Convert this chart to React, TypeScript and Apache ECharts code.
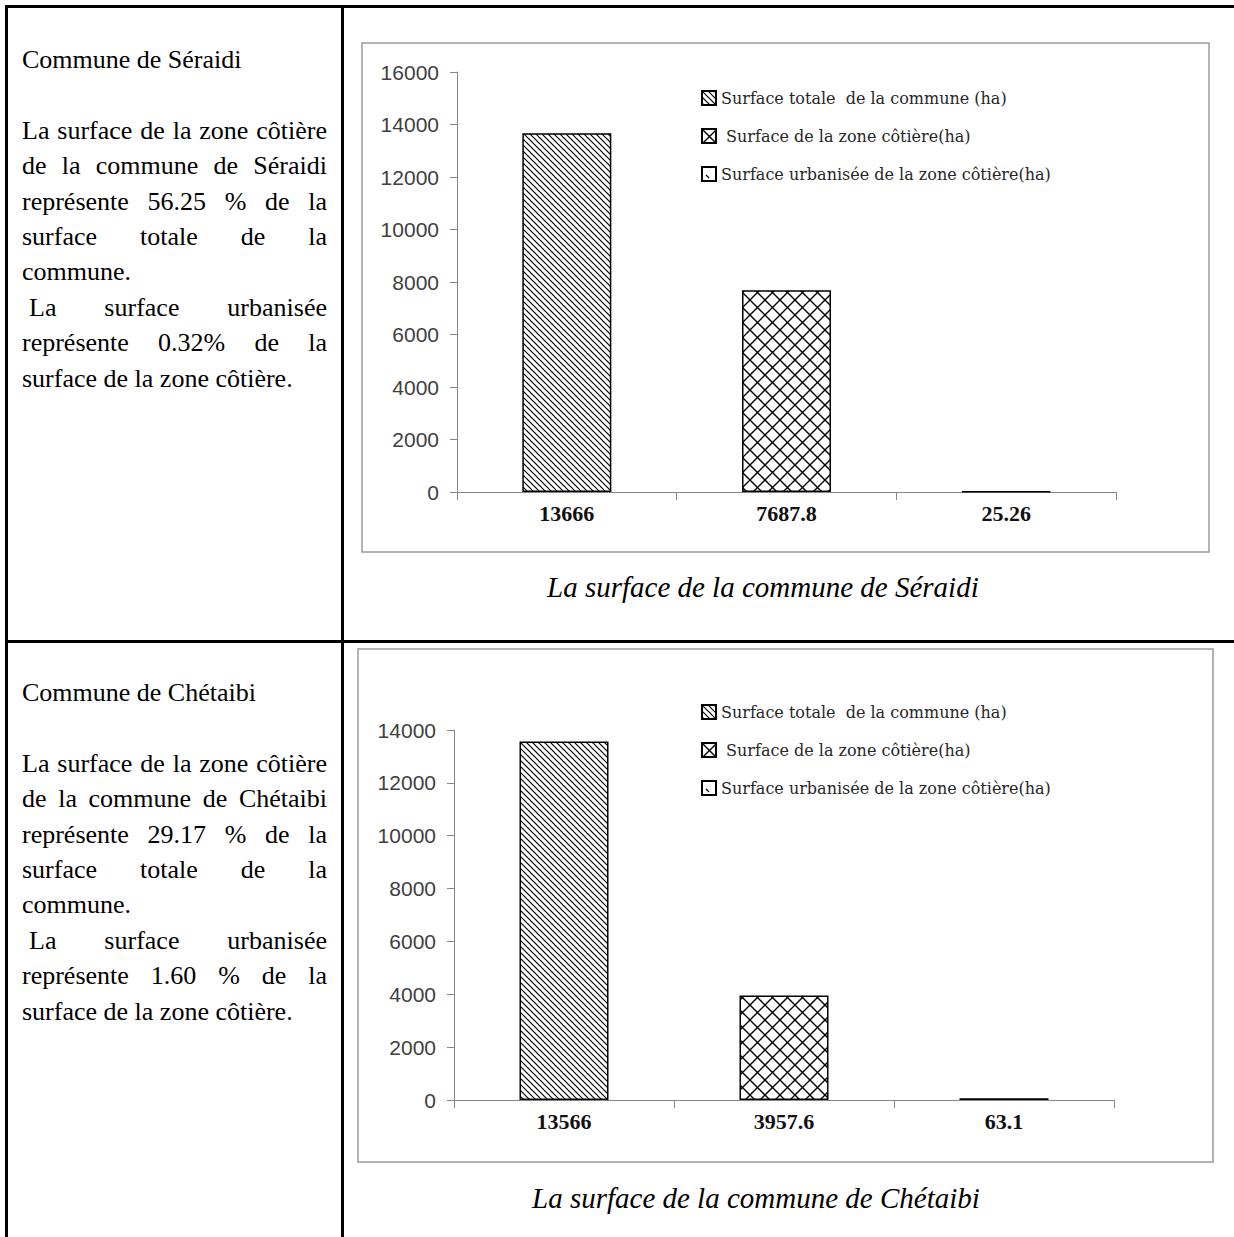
import React, { useEffect, useRef } from "react";
import * as echarts from "echarts";

// ---------- data ----------
const seriesNames = [
  "Surface totale  de la commune (ha)",
  "Surface de la zone côtière(ha)",
  "Surface urbanisée de la zone côtière(ha)",
];
const seraidiCategories = ["13666", "7687.8", "25.26"];
const seraidiValues = [13666, 7687.8, 25.26];
const seraidiAxis = [0, 16000, 2000];

const chetaibiCategories = ["13566", "3957.6", "63.1"];
const chetaibiValues = [13566, 3957.6, 63.1];
const chetaibiAxis = [0, 14000, 2000];

const seraidiTitle = "Commune de Séraidi";
const seraidiPara1 =
  "La surface de la zone côtière de la commune de Séraidi représente 56.25 %  de la surface totale de la commune.";
const seraidiPara2 = "La surface urbanisée représente 0.32% de la surface de la zone côtière.";
const seraidiCaption = "La surface de la commune de Séraidi";

const chetaibiTitle = "Commune de Chétaibi";
const chetaibiPara1 =
  "La surface de la zone côtière de la commune de Chétaibi représente 29.17 %  de la surface totale de la commune.";
const chetaibiPara2 = "La surface urbanisée représente 1.60 % de la surface de la zone côtière.";
const chetaibiCaption = "La surface de la commune de Chétaibi";

// ---------- helpers ----------
function makePattern(kind: number) {
  const c = document.createElement("canvas");
  const s = kind === 0 ? 6 : kind === 1 ? 15 : 14;
  c.width = s;
  c.height = s;
  const ctx = c.getContext("2d")!;
  ctx.fillStyle = "#fff";
  ctx.fillRect(0, 0, s, s);
  ctx.strokeStyle = "#000";
  ctx.lineCap = "butt";
  ctx.beginPath();
  if (kind === 0) {
    ctx.lineWidth = 1.2;
    ctx.moveTo(-1, -1);
    ctx.lineTo(s + 1, s + 1);
    ctx.moveTo(-1, s - 1);
    ctx.lineTo(1, s + 1);
    ctx.moveTo(s - 1, -1);
    ctx.lineTo(s + 1, 1);
  } else if (kind === 1) {
    ctx.lineWidth = 1.4;
    ctx.moveTo(-1, s + 1);
    ctx.lineTo(s + 1, -1);
    ctx.moveTo(-1, 1);
    ctx.lineTo(1, -1);
    ctx.moveTo(s - 1, s + 1);
    ctx.lineTo(s + 1, s - 1);
    ctx.moveTo(-1, -1);
    ctx.lineTo(s + 1, s + 1);
    ctx.moveTo(-1, s - 1);
    ctx.lineTo(1, s + 1);
    ctx.moveTo(s - 1, -1);
    ctx.lineTo(s + 1, 1);
  } else {
    ctx.lineWidth = 1.2;
    ctx.moveTo(4, 8);
    ctx.lineTo(7, 11);
  }
  ctx.stroke();
  return { image: c as any, repeat: "repeat" as const };
}

const TEXT_STYLE: React.CSSProperties = {
  position: "absolute",
  left: 22,
  width: 305,
  fontFamily: '"Liberation Serif", "Times New Roman", serif',
  fontSize: 26,
  lineHeight: "35.4px",
  color: "#000",
  textAlign: "justify",
};

function Cell({ top, title, p1, p2 }: { top: number; title: string; p1: string; p2: string }) {
  return (
    <div style={{ ...TEXT_STYLE, top }}>
      <div>{title}</div>
      <div>&nbsp;</div>
      <div>{p1}</div>
      <div style={{ textIndent: 7 }}>{p2}</div>
    </div>
  );
}

export default function App() {
  const ref = useRef<HTMLDivElement>(null);

  useEffect(() => {
    const chart = echarts.init(ref.current!, null, { renderer: "svg" });
    const patterns = [makePattern(0), makePattern(1), makePattern(2)];

    const axisGray = "#868686";
    const mkX = (gridIndex: number, cats: string[]) => ({
      type: "category",
      gridIndex,
      data: cats,
      axisLine: { show: true, lineStyle: { color: axisGray, width: 1 } },
      axisTick: { show: true, length: 8, lineStyle: { color: axisGray } },
      axisLabel: {
        fontFamily: '"Liberation Serif", "Times New Roman", serif',
        fontWeight: "bold",
        fontSize: 22,
        color: "#111",
        margin: 10,
      },
      splitLine: { show: false },
    });
    const mkY = (gridIndex: number, ax: number[]) => ({
      type: "value",
      gridIndex,
      min: ax[0],
      max: ax[1],
      interval: ax[2],
      axisLine: { show: true, lineStyle: { color: axisGray, width: 1 } },
      axisTick: { show: true, length: 7, lineStyle: { color: axisGray } },
      axisLabel: {
        fontFamily: '"Liberation Sans", Arial, sans-serif',
        fontSize: 21,
        color: "#404040",
        margin: 18,
        formatter: (v: number) => String(v),
      },
      splitLine: { show: false },
    });
    const mkSeries = (idx: number, vals: number[], stack: string) =>
      vals.map((v, i) => ({
        name: seriesNames[i],
        type: "bar",
        xAxisIndex: idx,
        yAxisIndex: idx,
        stack,
        barWidth: 89,
        data: vals.map((_, j) => (j === i ? v : "-")),
        itemStyle: { color: patterns[i], borderColor: "#000", borderWidth: 1.5 },
      }));
    const mkLegend = (top: number) => ({
      orient: "vertical",
      left: 696,
      top,
      itemWidth: 14,
      itemHeight: 14,
      itemGap: 18,
      icon: "rect",
      data: seriesNames,
      formatter: (name: string) => (name === seriesNames[1] ? " " + name : name),
      textStyle: {
        fontFamily: '"DejaVu Serif", serif',
        fontSize: 16,
        color: "#262626",
        lineHeight: 20,
      },
    });

    chart.setOption({
      animation: false,
      backgroundColor: "transparent",
      grid: [
        { left: 457, top: 72, width: 659, height: 420 },
        { left: 454, top: 730, width: 660, height: 370 },
      ],
      xAxis: [mkX(0, seraidiCategories), mkX(1, chetaibiCategories)],
      yAxis: [mkY(0, seraidiAxis), mkY(1, chetaibiAxis)],
      legend: [mkLegend(83), mkLegend(697)],
      series: [...mkSeries(0, seraidiValues, "a"), ...mkSeries(1, chetaibiValues, "b")],
      graphic: [
        {
          type: "rect",
          z: -10,
          shape: { x: 362, y: 43, width: 847, height: 509 },
          style: { fill: "none", stroke: "#9a9a9a", lineWidth: 1.5 },
        },
        {
          type: "rect",
          z: -10,
          shape: { x: 358, y: 649, width: 855, height: 513 },
          style: { fill: "none", stroke: "#9a9a9a", lineWidth: 1.5 },
        },
        {
          type: "text",
          x: 547,
          y: 587,
          style: {
            text: seraidiCaption,
            font: 'italic 29px "Liberation Serif", "Times New Roman", serif',
            fill: "#000",
            textVerticalAlign: "middle",
          },
        },
        {
          type: "text",
          x: 532,
          y: 1198,
          style: {
            text: chetaibiCaption,
            font: 'italic 29px "Liberation Serif", "Times New Roman", serif',
            fill: "#000",
            textVerticalAlign: "middle",
          },
        },
      ],
    });
    return () => chart.dispose();
  }, []);

  const line = (l: number, t: number, w: number, h: number): React.CSSProperties => ({
    position: "absolute",
    left: l,
    top: t,
    width: w,
    height: h,
    background: "#000",
  });

  return (
    <div
      style={{
        position: "absolute",
        left: 0,
        top: 0,
        width: 1234,
        height: 1237,
        overflow: "hidden",
        background: "#fff",
      }}
    >
      <div style={line(5, 5, 1240, 3)} />
      <div style={line(5, 5, 3, 1240)} />
      <div style={line(341, 5, 3, 1240)} />
      <div style={line(5, 640, 1240, 3)} />
      <Cell top={42} title={seraidiTitle} p1={seraidiPara1} p2={seraidiPara2} />
      <Cell top={675} title={chetaibiTitle} p1={chetaibiPara1} p2={chetaibiPara2} />
      <div ref={ref} style={{ position: "absolute", left: 0, top: 0, width: 1234, height: 1237 }} />
    </div>
  );
}
